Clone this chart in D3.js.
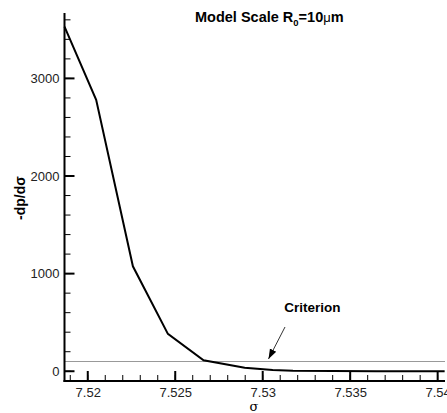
<!DOCTYPE html>
<html>
<head>
<meta charset="utf-8">
<script src="https://cdn.jsdelivr.net/npm/d3@7"></script>
<style>
  body { margin: 0; background: #fff; }
  svg { display: block; font-family: "Liberation Sans", Arial, sans-serif; }
</style>
</head>
<body>
<div id="grafico"></div>
<script>
// data
const sigma = [7.51867, 7.52048, 7.52258, 7.52458, 7.52662, 7.52897, 7.53057, 7.53173, 7.5340, 7.5365, 7.5390, 7.5404];
const dpds = [3530, 2780, 1075, 383, 113, 35, 12, 5, 2, 1, 0, 0];
const criterion = 100;
const xMajor = [7.52, 7.525, 7.53, 7.535, 7.54];
const xMinor = d3.range(7.519, 7.5405, 0.001);
const yMajor = [0, 1000, 2000, 3000];
const yMinor = d3.range(0, 3601, 200);

const width = 447, height = 413;
const mLeft = 64.5, mRight = 445, mTop = 13, mBottom = 381;

const x = d3.scaleLinear().domain([7.51867, 7.54042]).range([mLeft, mRight]);
const y = d3.scaleLinear().domain([-100, 3670]).range([mBottom, mTop]);

const svg = d3.select("#grafico").append("svg")
  .attr("width", width).attr("height", height);

// criterion line
svg.append("line")
  .attr("x1", mLeft).attr("x2", mRight)
  .attr("y1", y(criterion)).attr("y2", y(criterion))
  .attr("stroke", "#999").attr("stroke-width", 1.2);

// curve
const curva = d3.line().x((d, i) => x(sigma[i])).y(d => y(d));
svg.append("path")
  .datum(dpds)
  .attr("d", curva)
  .attr("fill", "none")
  .attr("stroke", "#000")
  .attr("stroke-width", 2);

// axis labels from d3 axes
const fmt = d => String(+d.toFixed(3));
const gx = svg.append("g").attr("transform", `translate(0,${mBottom})`)
  .call(d3.axisBottom(x).tickValues(xMajor).tickSize(0).tickPadding(7).tickFormat(fmt));
const gy = svg.append("g").attr("transform", `translate(${mLeft},0)`)
  .call(d3.axisLeft(y).tickValues(yMajor).tickSize(0).tickPadding(5).tickFormat(d3.format("d")));
[gx, gy].forEach(g => {
  g.select(".domain").remove();
  g.selectAll(".tick line").remove();
  g.selectAll(".tick text")
    .attr("font-family", "Liberation Sans, Arial, sans-serif")
    .attr("font-size", 13).attr("fill", "#222");
});

// tick marks pointing inward
svg.selectAll("line.xmin").data(xMinor).join("line").attr("class", "xmin")
  .attr("x1", d => x(d)).attr("x2", d => x(d))
  .attr("y1", mBottom).attr("y2", mBottom - 6)
  .attr("stroke", "#000").attr("stroke-width", 1);
svg.selectAll("line.xmaj").data(xMajor).join("line").attr("class", "xmaj")
  .attr("x1", d => x(d)).attr("x2", d => x(d))
  .attr("y1", mBottom).attr("y2", mBottom - 10)
  .attr("stroke", "#000").attr("stroke-width", 2);
svg.selectAll("line.ymin").data(yMinor).join("line").attr("class", "ymin")
  .attr("x1", mLeft).attr("x2", mLeft + 6)
  .attr("y1", d => y(d)).attr("y2", d => y(d))
  .attr("stroke", "#000").attr("stroke-width", 1);
svg.selectAll("line.ymaj").data(yMajor).join("line").attr("class", "ymaj")
  .attr("x1", mLeft).attr("x2", mLeft + 10)
  .attr("y1", d => y(d)).attr("y2", d => y(d))
  .attr("stroke", "#000").attr("stroke-width", 2);

// axis lines
svg.append("line").attr("x1", mLeft).attr("x2", mLeft).attr("y1", mTop).attr("y2", mBottom + 1)
  .attr("stroke", "#000").attr("stroke-width", 2);
svg.append("line").attr("x1", mLeft - 1).attr("x2", mRight).attr("y1", mBottom).attr("y2", mBottom)
  .attr("stroke", "#000").attr("stroke-width", 2);

// axis titles
svg.append("text")
  .attr("x", 254).attr("y", 411)
  .attr("text-anchor", "middle")
  .attr("font-size", 13)
  .attr("font-family", "DejaVu Serif, serif")
  .text("σ");

svg.append("text")
  .attr("transform", `translate(25,198) rotate(-90)`)
  .attr("text-anchor", "middle")
  .attr("font-size", 14).attr("font-weight", "bold")
  .text("-dp/dσ");

// title
const t = svg.append("text")
  .attr("x", 195).attr("y", 22)
  .attr("font-size", 14.5).attr("font-weight", "bold");
t.append("tspan").text("Model Scale R");
t.append("tspan").attr("dy", 4).attr("font-size", 9.5).text("0");
t.append("tspan").attr("dy", -4).text("=10");
t.append("tspan").attr("font-weight", "normal").attr("font-size", 13).text("μ");
t.append("tspan").text("m");

// criterion annotation
svg.append("text")
  .attr("x", 312.5).attr("y", 312)
  .attr("text-anchor", "middle")
  .attr("font-size", 13.5).attr("font-weight", "bold")
  .text("Criterion");

svg.append("defs").append("marker")
  .attr("id", "head").attr("viewBox", "0 0 10 10")
  .attr("refX", 10).attr("refY", 5)
  .attr("markerWidth", 10).attr("markerHeight", 10)
  .attr("markerUnits", "userSpaceOnUse")
  .attr("orient", "auto")
  .append("path").attr("d", "M0,1.5 L10,5 L0,8.5 Z").attr("fill", "#000");

svg.append("line")
  .attr("x1", 285).attr("y1", 327)
  .attr("x2", 268.5).attr("y2", 359)
  .attr("stroke", "#000").attr("stroke-width", 0.8)
  .attr("marker-end", "url(#head)");
</script>
</body>
</html>
